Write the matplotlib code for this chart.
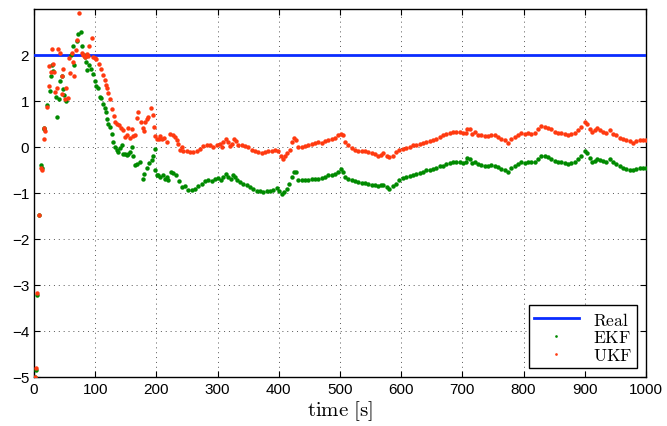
import numpy as np
from matplotlib import pyplot as plt

# 그림에서 읽어온 추정값 (time [s], value)
real_value = 2.0

ekf_t = [1.5, 3, 5, 8, 11, 12.5, 16, 17, 21, 26, 27, 30, 31.5, 36, 38, 41, 42.5, 45,
         48, 49, 52, 60, 63, 65.5, 70, 72.5, 76, 78, 81, 83.5, 85, 87, 90.5, 93, 97,
         99.5, 102, 105, 108, 110, 113, 116, 118, 120, 121.5, 124, 127, 129, 132.5,
         135, 138, 140.5, 143, 146, 149, 151.5, 154, 157, 159.5, 162.5, 165, 168,
         173, 177.5, 180, 184, 188.5, 192.5, 195, 197,
         197.7, 200.4, 203.1, 205.8, 210.2, 214.0, 216.7, 219.5, 223.3, 227.6, 232.0,
         237.4, 241.2, 246.7, 252.1, 257.6, 263.0, 268.5, 273.9, 279.4, 284.8, 290.3,
         295.7, 301.2, 305.0, 309.3, 313.7, 317.5, 321.3, 325.7, 328.9, 332.2, 336.6,
         342.0, 347.5, 352.9, 358.3, 363.8, 369.2, 374.7, 380.1, 385.6, 391.0, 396.5,
         400.8, 404.6, 408.5, 412.8, 417.2, 421.0, 424.8, 428.1, 431.9, 437.3, 442.8,
         448.2, 453.7, 459.1, 464.5, 470.0, 475.4, 480.9, 486.3, 491.8, 497.2, 501.0,
         504.3, 508.1, 513.6, 519.0, 524.5, 529.9, 535.4, 540.8, 546.3, 551.7, 557.1,
         562.6, 566.4, 570.8, 576.2, 580.6, 586.0, 591.5, 596.9,
         603.1, 608.6, 614.0, 619.5, 624.9, 630.4, 635.8, 641.3, 646.7, 652.2, 657.6,
         663.1, 668.5, 674.0, 679.4, 684.8, 690.3, 695.7, 701.2, 705.5, 707.7, 712.1,
         716.4, 720.2, 725.7, 731.1, 736.6, 742.0, 747.5, 752.9, 758.4, 763.8, 769.3,
         774.7, 780.2, 785.6, 791.1, 796.5, 801.9, 807.4, 812.8, 818.3, 823.7, 829.2,
         834.6, 840.1, 845.5, 851.0, 856.4, 861.9, 867.3, 872.7, 878.2, 883.6, 889.1,
         894.5, 900.0, 903.8, 908.2, 912.5, 916.3, 920.1, 924.5, 930.0, 935.4, 940.8,
         946.3, 951.7, 957.2, 962.6, 968.1, 973.5, 979.0, 984.4, 989.9, 995.3, 1000]
ekf_v = [-5.0, -4.85, -3.22, -1.48, -0.4, -0.47, 0.42, 0.38, 0.9, 1.22, 1.53, 1.78,
         1.65, 1.08, 0.65, 1.04, 1.43, 1.55, 1.26, 1.13, 1.0, 2.0, 2.2, 1.77, 2.3,
         2.46, 2.5, 2.2, 2.0, 1.96, 1.85, 1.66, 1.78, 1.7, 1.59, 1.44, 1.32, 1.28,
         1.08, 1.06, 0.94, 0.85, 0.75, 0.61, 0.5, 0.43, 0.28, 0.1, 0.0, -0.07, -0.11,
         -0.02, 0.03, -0.15, -0.16, -0.17, -0.15, -0.11, 0.0, -0.19, -0.39, -0.38,
         -0.33, -0.7, -0.6, -0.45, -0.36, -0.28, -0.2, -0.05,
         -0.51, -0.62, -0.62, -0.66, -0.62, -0.70, -0.66, -0.71, -0.54, -0.57, -0.62,
         -0.75, -0.88, -0.86, -0.93, -0.93, -0.91, -0.86, -0.80, -0.75, -0.73, -0.75,
         -0.70, -0.68, -0.73, -0.66, -0.59, -0.66, -0.70, -0.61, -0.66, -0.73, -0.77,
         -0.80, -0.84, -0.88, -0.91, -0.95, -0.97, -0.99, -0.97, -0.95, -0.93, -0.90,
         -0.95, -1.02, -0.99, -0.91, -0.80, -0.66, -0.55, -0.55, -0.71, -0.73, -0.71,
         -0.71, -0.70, -0.70, -0.70, -0.68, -0.66, -0.62, -0.61, -0.59, -0.54, -0.49,
         -0.54, -0.66, -0.70, -0.73, -0.75, -0.77, -0.78, -0.78, -0.80, -0.83, -0.83,
         -0.86, -0.84, -0.83, -0.88, -0.91, -0.86, -0.80, -0.73,
         -0.68, -0.66, -0.64, -0.61, -0.59, -0.57, -0.55, -0.51, -0.51, -0.49, -0.46,
         -0.42, -0.41, -0.37, -0.35, -0.33, -0.33, -0.32, -0.35, -0.33, -0.25, -0.26,
         -0.35, -0.32, -0.37, -0.39, -0.41, -0.41, -0.39, -0.41, -0.44, -0.48, -0.51,
         -0.55, -0.46, -0.42, -0.37, -0.33, -0.35, -0.33, -0.33, -0.32, -0.26, -0.19,
         -0.20, -0.22, -0.26, -0.30, -0.32, -0.33, -0.35, -0.37, -0.35, -0.32, -0.26,
         -0.20, -0.08, -0.13, -0.25, -0.32, -0.30, -0.26, -0.28, -0.30, -0.32, -0.26,
         -0.33, -0.37, -0.42, -0.46, -0.49, -0.51, -0.51, -0.48, -0.46, -0.46, -0.46]

ukf_t = [1.5, 3, 5, 8, 11.5, 12.5, 15.5, 17, 18.5, 21, 24, 25, 27, 29.5, 31.5, 33,
         35, 38, 40, 43, 45, 46, 48, 50, 52, 55, 56.5, 58, 61.5, 64, 66, 68.5, 71,
         74, 78, 80, 83, 86, 88, 90.5, 94, 97, 99.5, 102, 106, 110, 113, 116, 118,
         120, 121, 123.5, 127, 130, 132, 135, 139, 142, 146, 149, 151.5, 154, 157,
         160, 162.5, 165, 168, 170.5, 174, 177.5, 180, 181.5, 184, 187, 190.5, 194,
         196, 198, 201, 203.5, 206, 209, 212,
         216.7, 222.2, 227.6, 230.3, 233.1, 235.8, 238.5, 241.2, 244.0, 249.4, 254.9,
         260.3, 265.8, 271.2, 276.6, 282.1, 287.5, 293.0, 298.4, 303.9, 306.6, 309.3,
         313.7, 317.5, 320.2, 322.9, 326.8, 330.0, 333.8, 339.3, 344.7, 350.2, 355.6,
         361.1, 366.5, 372.0, 377.4, 382.9, 388.3, 393.8, 399.2, 403.0, 406.3, 410.1,
         413.9, 418.3, 421.0, 424.8, 428.1, 431.9, 437.3, 442.8, 448.2, 453.7, 459.1,
         464.5, 470.0, 475.4, 480.9, 486.3, 491.8, 497.2, 501.0, 504.3, 508.1, 513.6,
         519.0, 524.5, 529.9, 535.4, 540.8, 546.3, 551.7, 557.1, 562.6, 566.4, 570.8,
         576.2, 580.6, 586.0, 591.5, 596.9,
         603.1, 608.6, 614.0, 619.5, 624.9, 630.4, 635.8, 641.3, 646.7, 652.2, 657.6,
         663.1, 668.5, 674.0, 679.4, 684.8, 690.3, 695.7, 701.2, 705.5, 707.7, 712.1,
         716.4, 720.2, 725.7, 731.1, 736.6, 742.0, 747.5, 752.9, 758.4, 763.8, 769.3,
         774.7, 780.2, 785.6, 791.1, 796.5, 801.9, 807.4, 812.8, 818.3, 823.7, 829.2,
         834.6, 840.1, 845.5, 851.0, 856.4, 861.9, 867.3, 872.7, 878.2, 883.6, 889.1,
         894.5, 900.0, 903.8, 908.2, 912.5, 916.3, 920.1, 924.5, 930.0, 935.4, 940.8,
         946.3, 951.7, 957.2, 962.6, 968.1, 973.5, 979.0, 984.4, 989.9, 995.3, 1000]
ukf_v = [-5.0, -4.8, -3.18, -1.48, -0.45, -0.5, 0.42, 0.18, 0.35, 0.86, 1.75, 1.32,
         1.63, 2.13, 1.8, 1.62, 1.2, 1.27, 2.13, 2.03, 1.55, 1.15, 1.7, 1.05, 1.28,
         1.06, 1.93, 1.6, 2.04, 1.84, 1.55, 2.11, 2.33, 2.9, 2.05, 2.0, 1.95, 2.02,
         1.98, 2.19, 2.37, 1.96, 1.93, 1.9, 1.8, 1.7, 1.57, 1.45, 1.35, 1.28, 1.17,
         1.05, 0.83, 0.67, 0.55, 0.5, 0.47, 0.42, 0.36, 0.22, 0.25, 0.4, 0.2, 0.38,
         0.24, 0.25, 0.62, 0.75, 0.53, 0.42, 0.35, 0.55, 0.61, 0.64, 0.84, 0.7, 0.43,
         0.23, 0.16, 0.18, 0.24, 0.16, 0.2,
         0.10, 0.28, 0.25, 0.21, 0.14, 0.07, -0.06, -0.01, -0.08, -0.10, -0.12,
         -0.12, -0.08, -0.04, 0.01, 0.04, 0.03, -0.01, 0.04, 0.07, -0.01, 0.10,
         0.16, 0.10, 0.01, 0.07, 0.16, 0.12, 0.04, 0.03, 0.01, -0.01, -0.06,
         -0.10, -0.12, -0.13, -0.12, -0.10, -0.08, -0.06, -0.08, -0.19, -0.26, -0.20,
         -0.13, -0.06, 0.10, 0.19, 0.14, -0.01, -0.01, 0.01, 0.03, 0.07, 0.09,
         0.10, 0.09, 0.12, 0.14, 0.17, 0.19, 0.25, 0.28, 0.25, 0.10, 0.04,
         -0.03, -0.06, -0.08, -0.08, -0.10, -0.12, -0.13, -0.15, -0.19, -0.17, -0.13,
         -0.19, -0.22, -0.19, -0.12, -0.06,
         -0.04, -0.03, -0.01, 0.03, 0.04, 0.07, 0.09, 0.10, 0.12, 0.14, 0.17,
         0.21, 0.25, 0.28, 0.30, 0.33, 0.32, 0.33, 0.30, 0.30, 0.39, 0.38,
         0.28, 0.32, 0.26, 0.25, 0.23, 0.23, 0.25, 0.25, 0.21, 0.17, 0.14,
         0.08, 0.17, 0.21, 0.26, 0.30, 0.28, 0.30, 0.28, 0.30, 0.39, 0.45,
         0.43, 0.41, 0.38, 0.33, 0.30, 0.30, 0.28, 0.26, 0.28, 0.30, 0.36,
         0.43, 0.54, 0.50, 0.39, 0.33, 0.36, 0.41, 0.36, 0.32, 0.30, 0.36,
         0.28, 0.25, 0.19, 0.16, 0.14, 0.12, 0.09, 0.12, 0.14, 0.14, 0.14]

x_ticks = [0, 100, 200, 300, 400, 500, 600, 700, 800, 900, 1000]
y_ticks = [-5, -4, -3, -2, -1, 0, 1, 2]

plt.rcParams["font.family"] = ["Liberation Sans", "DejaVu Sans"]
plt.rcParams["mathtext.fontset"] = "cm"

fig = plt.figure(figsize=(6.67, 4.27), dpi=100)
ax = fig.add_axes([0.051, 0.115, 0.9175, 0.862])

ax.plot([0, 1000], [real_value, real_value], color="#0a2cff", lw=2.0,
        label=r"$\mathrm{Real}$", zorder=3)
ax.plot(ekf_t, ekf_v, ls="none", marker="o", ms=3.2, mew=0, color="#008a00",
        label=r"$\mathrm{EKF}$", zorder=4)
ax.plot(ukf_t, ukf_v, ls="none", marker="o", ms=3.2, mew=0, color="#ff3a10",
        label=r"$\mathrm{UKF}$", zorder=4)

ax.set_xlim(0, 1000)
ax.set_ylim(-5, 3)
ax.set_xticks(x_ticks)
ax.set_yticks(y_ticks)
ax.set_yticklabels([str(v).replace("-", "\u2212") for v in y_ticks])
ax.tick_params(direction="in", top=True, right=True, length=4, width=0.8,
               labelsize=11)
ax.grid(True, ls=(0, (1, 4)), color="#555555", lw=0.7)
for s in ax.spines.values():
    s.set_linewidth(1.0)

ax.set_xlabel(r"$\mathrm{time\ [s]}$", fontsize=15, labelpad=2)

leg = ax.legend(loc="lower right", fontsize=12.5, fancybox=False, framealpha=1,
                edgecolor="black", borderaxespad=0.5, handlelength=2.6,
                markerscale=0.6, labelspacing=0.1, borderpad=0.3)
leg.get_frame().set_linewidth(1.0)

plt.savefig("out.png", dpi=100)
plt.close()
